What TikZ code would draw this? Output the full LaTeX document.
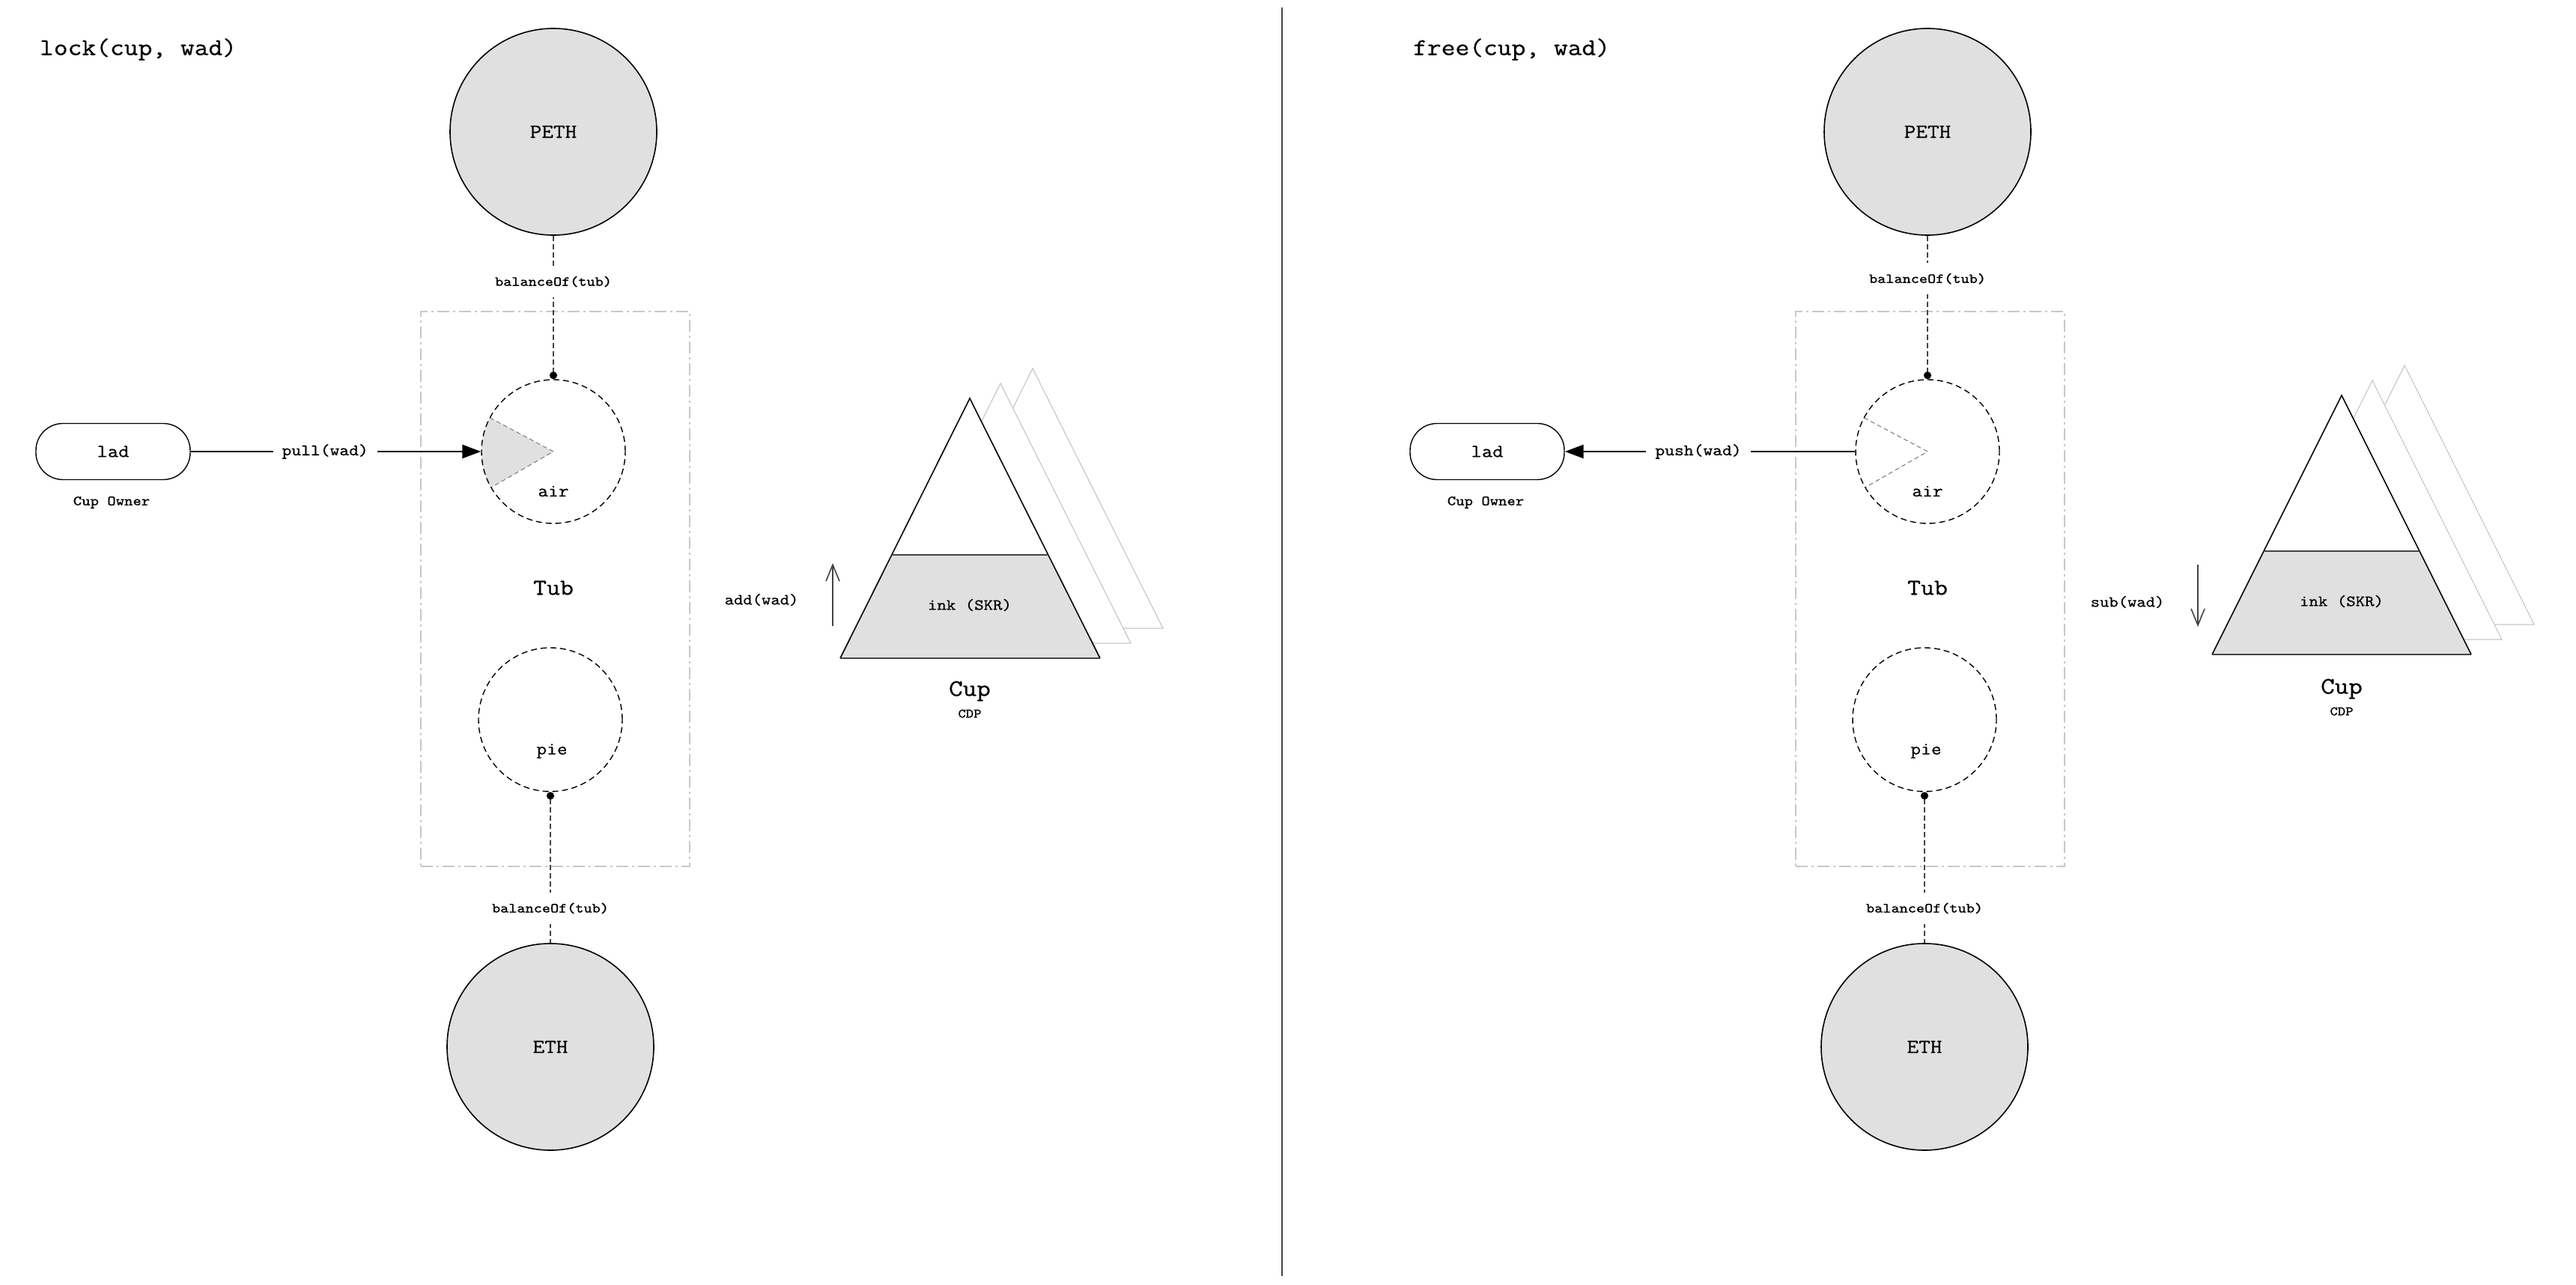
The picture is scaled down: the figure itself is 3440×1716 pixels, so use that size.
\documentclass[tikz,border=0pt]{standalone}
\usepackage{fontspec}
\setmainfont{Latin Modern Mono}[FakeStretch=1.14,FakeBold=0.6]
\usetikzlibrary{arrows.meta}
\definecolor{cfill}{HTML}{E0E0E0}
\definecolor{cdark}{HTML}{444444}
\definecolor{clight}{HTML}{C8C8C8}
\definecolor{cslice}{HTML}{8A8A8A}
\newcommand{\fsz}[1]{\fontsize{#1}{#1}\selectfont}
\begin{document}
\begin{tikzpicture}[x=0.5pt,y=-0.5pt,
  bigcirc/.style={circle,draw=black,line width=0.8pt,fill=cfill,minimum size=138pt,inner sep=0pt,font=\fsz{13.3pt}},
  smallcirc/.style={circle,draw=black,line width=0.7pt,dash pattern=on 4pt off 2.5pt,minimum size=96pt,inner sep=0pt},
  tubbox/.style={draw=clight,line width=1pt,dash pattern=on 8pt off 2.5pt on 1.5pt off 2.5pt,minimum width=179.5pt,minimum height=370.5pt,inner sep=0pt},
  balconn/.style={draw=cdark,line width=1pt,dash pattern=on 3.5pt off 2pt},
  ballabel/.style={fill=white,inner xsep=3pt,inner ysep=7pt,font=\fsz{9.3pt}},
  ladbox/.style={draw=black,line width=0.7pt,rounded corners=18pt,minimum width=103pt,minimum height=37.5pt,inner sep=0pt,font=\fsz{12.2pt}},
  flow/.style={line width=1.3pt,-{Triangle[length=12.5pt,width=9pt]}},
  flowlabel/.style={fill=white,inner xsep=6pt,inner ysep=2pt,font=\fsz{10.7pt}},
  slicedge/.style={draw=cslice,line width=0.6pt,dash pattern=on 3pt off 2pt},
  backtri/.style={draw=clight,fill=white,line width=0.6pt},
  fronttri/.style={draw=black,line width=0.8pt},
  levelline/.style={draw=cdark,line width=1.3pt},
  chgarrow/.style={draw=cdark,line width=0.8pt,-{Straight Barb[length=11pt,width=9pt]}},
  titletext/.style={anchor=west,font=\fsz{16pt}},
  smalltext/.style={font=\fsz{#1}}
]
\useasboundingbox[fill=white] (0,0) rectangle (3440,1716);

% separator
\coordinate (sepT) at (1712,10);
\coordinate (sepB) at (1712,1704);
\draw[cdark,line width=1.2pt] (sepT) -- (sepB);

%% ================= LEFT PANEL =================
\node[titletext] (Ltitle) at (46,66) {lock(cup, wad)};

\node[bigcirc] (LPETH) at (739,176) {PETH};
\node[bigcirc] (LETH) at (735,1398) {ETH};
\node[tubbox] (LTub) at (741.5,786.5) {};

% filled slice in air
\fill[cfill] (739,603) -- +(208:96) arc[start angle=208, end angle=150, radius=96] -- cycle;
\draw[slicedge] (739,603) ++(208:96) -- (739,603) -- +(150:96);

\node[smallcirc] (Lair) at (739,603) {};
\node[smalltext=11.7pt] (Lairlbl) at (739,656) {air};
\node[smallcirc] (Lpie) at (735,961) {};
\node[smalltext=11.7pt] (Lpielbl) at (737,1003) {pie};
\node[smalltext=15.3pt] (Ltublbl) at (739,785) {Tub};

\draw[balconn,-{Circle[length=5pt,color=black]}] (LPETH) -- node[ballabel,pos=0.32]{balanceOf(tub)} (Lair);
\draw[balconn,{Circle[length=5pt,color=black]}-] (Lpie) -- node[ballabel,pos=0.77]{balanceOf(tub)} (LETH);

\node[ladbox] (Llad) at (151,603) {lad};
\node[smalltext=9.5pt] (Lowner) at (149,671) {Cup Owner};
\draw[flow] (Llad) -- node[flowlabel,pos=0.463]{pull(wad)} (Lair);

% cup (left)
\draw[backtri] (1379,492) -- (1553,839) -- (1206,839) -- cycle;
\draw[backtri] (1336,512) -- (1510,859) -- (1163,859) -- cycle;
\fill[white] (1295,532) -- (1469,879) -- (1122,879) -- cycle;
\fill[cfill] (1190.5,741) -- (1399.5,741) -- (1469,879) -- (1122,879) -- cycle;
\draw[fronttri] (1122,879) -- (1295,532) -- (1469,879);
\draw[levelline] (1122,879) -- (1469,879);
\draw[levelline] (1190.5,741) -- (1399.5,741);
\node[smalltext=10.4pt] (Link) at (1295,808) {ink (SKR)};
\node[smalltext=15.8pt] (Lcup) at (1295,923) {Cup};
\node[smalltext=8.7pt] (Lcdp) at (1295,953) {CDP};
\node[smalltext=10.3pt] (Ladd) at (1017,801) {add(wad)};
\coordinate (LaddS) at (1112,836);
\coordinate (LaddE) at (1112,752);
\draw[chgarrow] (LaddS) -- (LaddE);

%% ================= RIGHT PANEL =================
\node[titletext] (Rtitle) at (1880,66) {free(cup, wad)};

\node[bigcirc] (RPETH) at (2574,176) {PETH};
\node[bigcirc] (RETH) at (2570,1398) {ETH};
\node[tubbox] (RTub) at (2577,786.5) {};

% empty slice in air
\draw[slicedge] (2574,603) ++(208:96) -- (2574,603) -- +(150:96);

\node[smallcirc] (Rair) at (2574,603) {};
\node[smalltext=11.7pt] (Rairlbl) at (2574,656) {air};
\node[smallcirc] (Rpie) at (2570,961) {};
\node[smalltext=11.7pt] (Rpielbl) at (2572,1003) {pie};
\node[smalltext=15.3pt] (Rtublbl) at (2574,785) {Tub};

\draw[balconn,-{Circle[length=5pt,color=black]}] (RPETH) -- node[ballabel,pos=0.3]{balanceOf(tub)} (Rair);
\draw[balconn,{Circle[length=5pt,color=black]}-] (Rpie) -- node[ballabel,pos=0.77]{balanceOf(tub)} (RETH);

\node[ladbox] (Rlad) at (1986,603) {lad};
\node[smalltext=9.5pt] (Rowner) at (1984,671) {Cup Owner};
\draw[flow] (Rair) -- node[flowlabel,pos=0.54]{push(wad)} (Rlad);

% cup (right)
\draw[backtri] (3211,488) -- (3384,834) -- (3038,834) -- cycle;
\draw[backtri] (3168,508) -- (3341,854) -- (2995,854) -- cycle;
\fill[white] (3127,528) -- (3300,874) -- (2954,874) -- cycle;
\fill[cfill] (3023,736) -- (3231,736) -- (3300,874) -- (2954,874) -- cycle;
\draw[fronttri] (2954,874) -- (3127,528) -- (3300,874);
\draw[levelline] (2954,874) -- (3300,874);
\draw[levelline] (3023,736) -- (3231,736);
\node[smalltext=10.4pt] (Rink) at (3127,803) {ink (SKR)};
\node[smalltext=15.8pt] (Rcup) at (3127,920) {Cup};
\node[smalltext=8.7pt] (Rcdp) at (3127,950) {CDP};
\node[smalltext=10.3pt] (Rsub) at (2841,804) {sub(wad)};
\coordinate (RsubS) at (2935,754);
\coordinate (RsubE) at (2935,837);
\draw[chgarrow] (RsubS) -- (RsubE);
\end{tikzpicture}
\end{document}
